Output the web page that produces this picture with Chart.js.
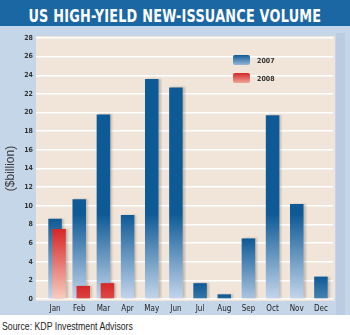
<!DOCTYPE html>
<html>
<head>
<meta charset="utf-8">
<script src="https://cdn.jsdelivr.net/npm/chart.js@4/dist/chart.umd.min.js"></script>
<style>
  body { margin: 0; width: 350px; height: 335px; background: #fff; overflow: hidden; }
  #banner { height: 26px; background: #1b67a3; display: flex; justify-content: center; align-items: center; overflow: hidden; }
  #titulo { display: inline-block; white-space: nowrap; color: #fff; font: bold 17px "DejaVu Sans", sans-serif; letter-spacing: 0.3px; transform-origin: center; padding-top: 6px; }
  #painel { position: relative; height: 289px; background: #c5d6e9; }
  #fonte { display: inline-block; white-space: nowrap; margin: 5px 0 0 2px; color: #222; font: 11px "Liberation Sans", sans-serif; transform-origin: left; }
</style>
</head>
<body>
<div id="banner"><span id="titulo">US HIGH-YIELD NEW-ISSUANCE VOLUME</span></div>
<div id="painel"><canvas id="grafico" width="350" height="289"></canvas></div>
<span id="fonte">Source: KDP Investment Advisors</span>

<script>
const meses = ['Jan', 'Feb', 'Mar', 'Apr', 'May', 'Jun', 'Jul', 'Aug', 'Sep', 'Oct', 'Nov', 'Dec'];
const volume2007 = [8.6, 10.7, 19.8, 9.0, 23.6, 22.7, 1.7, 0.5, 6.5, 19.7, 10.2, 2.4];
const volume2008 = [7.5, 1.4, 1.7, null, null, null, null, null, null, null, null, null];
const ticksY = [0, 2, 4, 6, 8, 10, 12, 14, 16, 18, 20, 22, 24, 26, 28];

const azulEscuro = [14, 90, 150];
const azulClaro = [196, 214, 236];
const vermelhoEscuro = [214, 38, 40];
const vermelhoClaro = [247, 206, 192];

// encolhe o texto para a largura que ele tem na imagem
function ajustarLargura(id, largura) {
  const el = document.getElementById(id);
  el.style.transform = 'scaleX(' + (largura / el.offsetWidth) + ')';
}
ajustarLargura('titulo', 293);
ajustarLargura('fonte', 131);

function misturar(a, b, t) {
  return 'rgb(' + a.map((v, i) => Math.round(v + (b[i] - v) * t)).join(',') + ')';
}

function corBarra(ctx, escuro, claro) {
  const chart = ctx.chart;
  const y = chart.scales.y;
  if (!chart.chartArea || !y || ctx.raw == null) return misturar(escuro, claro, 0);
  const topo = y.getPixelForValue(ctx.raw);
  const base = y.getPixelForValue(0);
  const altura = Math.max(1, base - topo);
  const g = chart.ctx.createLinearGradient(0, topo, 0, base);
  g.addColorStop(0, misturar(escuro, claro, 0));
  g.addColorStop(Math.max(0, 1 - 85 / altura), misturar(escuro, claro, 0));
  g.addColorStop(1, misturar(escuro, claro, Math.min(1, altura / 70)));
  return g;
}

function gradienteLegenda(c, y, h, escuro, claro) {
  const g = c.createLinearGradient(0, y, 0, y + h);
  g.addColorStop(0, misturar(escuro, claro, 0));
  g.addColorStop(1, misturar(escuro, claro, 0.75));
  return g;
}

const fundo = {
  id: 'fundo',
  beforeDraw(chart) {
    const c = chart.ctx;
    const a = chart.chartArea;
    c.save();
    c.fillStyle = '#b9cce2';
    c.fillRect(a.right + 3, a.top - 5, 9, chart.height - a.top + 5);
    c.fillStyle = '#f1e5d9';
    c.fillRect(a.left - 7, a.top - 2, a.right - a.left + 9, a.bottom - a.top + 4);
    c.restore();
  }
};

const sombra = {
  id: 'sombra',
  beforeDatasetsDraw(chart) {
    const c = chart.ctx;
    c.save();
    c.shadowColor = 'rgba(60,50,40,0.25)';
    c.shadowOffsetX = 2;
    c.shadowOffsetY = 0;
    c.shadowBlur = 2;
  },
  afterDatasetsDraw(chart) {
    chart.ctx.restore();
  }
};

// barras de 2008 ficam um pouco à direita e na frente das de 2007
const deslocar = {
  id: 'deslocar',
  afterDatasetsUpdate(chart) {
    chart.getDatasetMeta(1).data.forEach(b => { b.x += 4; });
  }
};

const legenda = {
  id: 'legenda',
  afterDraw(chart) {
    const c = chart.ctx;
    const itens = [
      { texto: '2007', escuro: azulEscuro, claro: azulClaro, y: 29 },
      { texto: '2008', escuro: vermelhoEscuro, claro: vermelhoClaro, y: 47 }
    ];
    c.save();
    itens.forEach(it => {
      c.fillStyle = gradienteLegenda(c, it.y, 10, it.escuro, it.claro);
      c.beginPath();
      c.roundRect(233, it.y, 17, 10, 2);
      c.fill();
      c.fillStyle = '#333';
      c.font = 'bold 7px "DejaVu Sans Condensed"';
      c.textBaseline = 'middle';
      c.fillText(it.texto, 257, it.y + 6);
    });
    c.restore();
  }
};

new Chart(document.getElementById('grafico'), {
  type: 'bar',
  data: {
    labels: meses,
    datasets: [
      {
        label: '2007',
        data: volume2007,
        order: 2,
        grouped: false,
        categoryPercentage: 0.7,
        barPercentage: 0.8,
        backgroundColor: ctx => corBarra(ctx, azulEscuro, azulClaro)
      },
      {
        label: '2008',
        data: volume2008,
        order: 1,
        grouped: false,
        categoryPercentage: 0.7,
        barPercentage: 0.8,
        backgroundColor: ctx => corBarra(ctx, vermelhoEscuro, vermelhoClaro)
      }
    ]
  },
  options: {
    responsive: false,
    animation: false,
    devicePixelRatio: 1,
    layout: { padding: { top: 12, right: 17, left: 0, bottom: 0 } },
    plugins: {
      legend: { display: false },
      tooltip: { enabled: false }
    },
    scales: {
      x: {
        grid: { display: false, drawTicks: false },
        border: { display: false },
        ticks: { color: '#222', padding: 5, font: { family: 'DejaVu Sans Condensed', size: 8 } },
        afterFit: s => { s.height = 16; }
      },
      y: {
        min: 0,
        max: 28,
        afterBuildTicks: s => { s.ticks = ticksY.map(v => ({ value: v })); },
        grid: { color: '#ffffff', lineWidth: 1.5, tickLength: 7 },
        border: { display: false },
        ticks: { color: '#333', padding: 3, font: { family: 'DejaVu Sans Condensed', size: 7, weight: 'bold' } },
        title: {
          display: true,
          text: '($billion)',
          color: '#3a3a3a',
          padding: { top: 3, bottom: 0 },
          font: { family: 'Liberation Sans', size: 12 }
        },
        afterFit: s => { s.width = 43; }
      }
    }
  },
  plugins: [fundo, sombra, deslocar, legenda]
});
</script>
</body>
</html>
